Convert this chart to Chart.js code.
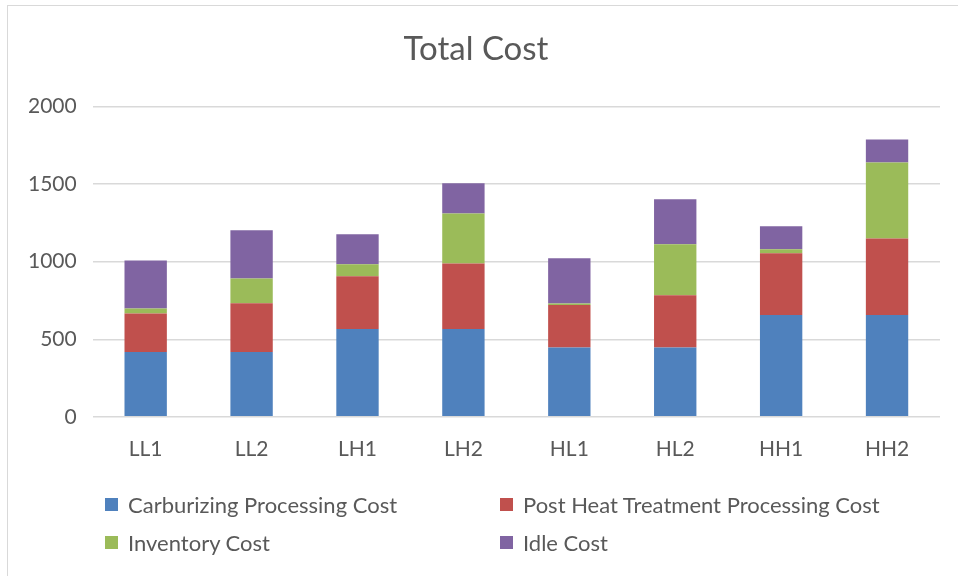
<!DOCTYPE html>
<html>
<head>
<meta charset="utf-8">
<script src="https://cdn.jsdelivr.net/npm/chart.js@4.4.0/dist/chart.umd.min.js"></script>
<style>
  html, body { margin: 0; padding: 0; background: #fff; }
  body { width: 958px; height: 576px; position: relative; overflow: hidden; font-family: Lato, "Open Sans", sans-serif; }
  #frame { position: absolute; left: 7px; top: 5px; width: 980px; height: 600px; border: 1px solid #d9d9d9; box-sizing: border-box; }
  #wrap { position: absolute; left: 0; top: 0; width: 958px; height: 576px; }
  #legend { position: absolute; left: 0; top: 0; width: 958px; height: 576px; pointer-events: none; }
  .item { position: absolute; display: flex; align-items: center; font-size: 22px; color: #595959; white-space: nowrap; }
  .box { width: 13px; height: 13px; margin-right: 10px; }
</style>
</head>
<body>
<div id="frame"></div>
<div id="wrap"><canvas id="c" width="958" height="576"></canvas></div>
<div id="legend"></div>
<script>
const categories = ["LL1", "LL2", "LH1", "LH2", "HL1", "HL2", "HH1", "HH2"];
const seriesNames = ["Carburizing Processing Cost", "Post Heat Treatment Processing Cost", "Inventory Cost", "Idle Cost"];
const seriesColors = ["#4F81BD", "#C0504D", "#9BBB59", "#8064A2"];
const carburizing = [418, 418, 566, 566, 447, 447, 656, 656];
const postHeat = [248, 314, 340, 422, 274, 337, 399, 493];
const inventory = [32, 160, 78, 323, 10, 328, 26, 490];
const idle = [310, 310, 193, 194, 291, 291, 148, 149];
const yTicks = [0, 500, 1000, 1500, 2000];
const title = "Total Cost";

const seriesValues = [carburizing, postHeat, inventory, idle];
const FONT = "Lato, 'Open Sans', sans-serif";

new Chart(document.getElementById("c"), {
  type: "bar",
  data: {
    labels: categories,
    datasets: seriesNames.map((n, i) => ({
      label: n,
      data: seriesValues[i],
      backgroundColor: seriesColors[i],
      borderWidth: 0,
      categoryPercentage: 1.0,
      barPercentage: 0.4
    }))
  },
  options: {
    responsive: false,
    animation: false,
    layout: { padding: { left: 12, right: 18, top: 0, bottom: 102 } },
    plugins: {
      legend: { display: false },
      tooltip: { enabled: false },
      title: {
        display: true,
        text: title,
        color: "#595959",
        font: { family: FONT, size: 33, weight: "normal" },
        padding: { top: 30, bottom: 37 }
      }
    },
    scales: {
      x: {
        stacked: true,
        grid: { display: false },
        border: { display: false },
        ticks: { color: "#595959", font: { family: FONT, size: 21 }, padding: 12 }
      },
      y: {
        stacked: true,
        min: yTicks[0],
        max: yTicks[yTicks.length - 1],
        afterBuildTicks: (axis) => { axis.ticks = yTicks.map(v => ({ value: v })); },
        grid: { color: "#d9d9d9", lineWidth: 1.5, drawTicks: false },
        border: { display: false },
        ticks: { color: "#595959", font: { family: FONT, size: 21 }, padding: 16, callback: (v) => String(v) }
      }
    }
  }
});

const legendPos = [[105, 505], [500, 505], [105, 543], [500, 543]];
const lg = document.getElementById("legend");
seriesNames.forEach((n, i) => {
  const d = document.createElement("div");
  d.className = "item";
  d.style.left = legendPos[i][0] + "px";
  d.style.top = (legendPos[i][1] - 14) + "px";
  const b = document.createElement("span");
  b.className = "box";
  b.style.background = seriesColors[i];
  const t = document.createElement("span");
  t.textContent = n;
  d.appendChild(b); d.appendChild(t);
  lg.appendChild(d);
});
</script>
</body>
</html>
